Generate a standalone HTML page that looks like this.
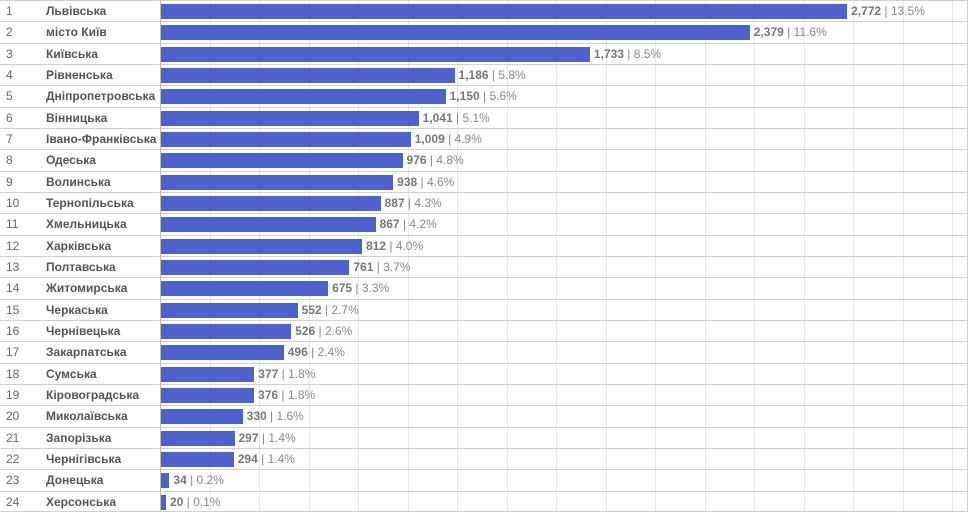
<!DOCTYPE html><html><head><meta charset="utf-8"><style>
body{margin:0;width:968px;height:512px;background:#fff;font-family:"Liberation Sans",sans-serif;overflow:hidden;position:relative}
.r{position:absolute;left:0;width:968px;height:21.33px;border-top:1px solid #d0d0d0;box-sizing:border-box}
.n{position:absolute;left:6px;top:3px;font-size:12px;color:#666}
.l{position:absolute;left:46px;top:3px;font-size:12px;color:#555;font-weight:bold}
.b{position:absolute;left:161px;top:3px;height:15px;background:#4f62cc}
.v{position:absolute;top:3px;font-size:12px;color:#888;white-space:nowrap}
.v b{color:#777}
.g{position:absolute;top:0;height:512px;width:1px;background:#e6e6e6}
</style></head><body>
<div id="grid"></div><div id="rows"></div>
<script>
var d=[["Львівська",2772,"13.5"],["місто Київ",2379,"11.6"],["Київська",1733,"8.5"],["Рівненська",1186,"5.8"],["Дніпропетровська",1150,"5.6"],["Вінницька",1041,"5.1"],["Івано-Франківська",1009,"4.9"],["Одеська",976,"4.8"],["Волинська",938,"4.6"],["Тернопільська",887,"4.3"],["Хмельницька",867,"4.2"],["Харківська",812,"4.0"],["Полтавська",761,"3.7"],["Житомирська",675,"3.3"],["Черкаська",552,"2.7"],["Чернівецька",526,"2.6"],["Закарпатська",496,"2.4"],["Сумська",377,"1.8"],["Кіровоградська",376,"1.8"],["Миколаївська",330,"1.6"],["Запорізька",297,"1.4"],["Чернігівська",294,"1.4"],["Донецька",34,"0.2"],["Херсонська",20,"0.1"]];
var h="";for(var i=0;i<=16;i++){h+='<div class="g" style="left:'+(160+i*49.5)+'px"></div>';}
h+='<div class="g" style="left:967px;background:#d0d0d0"></div>';
var s="";d.forEach(function(e,i){var w=e[1]*0.2475;s+='<div class="r" style="top:'+(i*21.33)+'px"><span class="n">'+(i+1)+'</span><span class="l">'+e[0]+'</span><div class="b" style="width:'+w+'px"></div><span class="v" style="left:'+(161+w+4)+'px"><b>'+e[1].toLocaleString("en-US")+'</b> | '+e[2]+'%</span></div>';});
document.getElementById("grid").innerHTML=h;document.getElementById("rows").innerHTML=s;
</script>
<div style="position:absolute;left:160px;top:0;width:1px;height:512px;background:#bbb"></div>
<div style="position:absolute;left:0;top:511px;width:968px;height:1px;background:#d0d0d0"></div>
</body></html>
